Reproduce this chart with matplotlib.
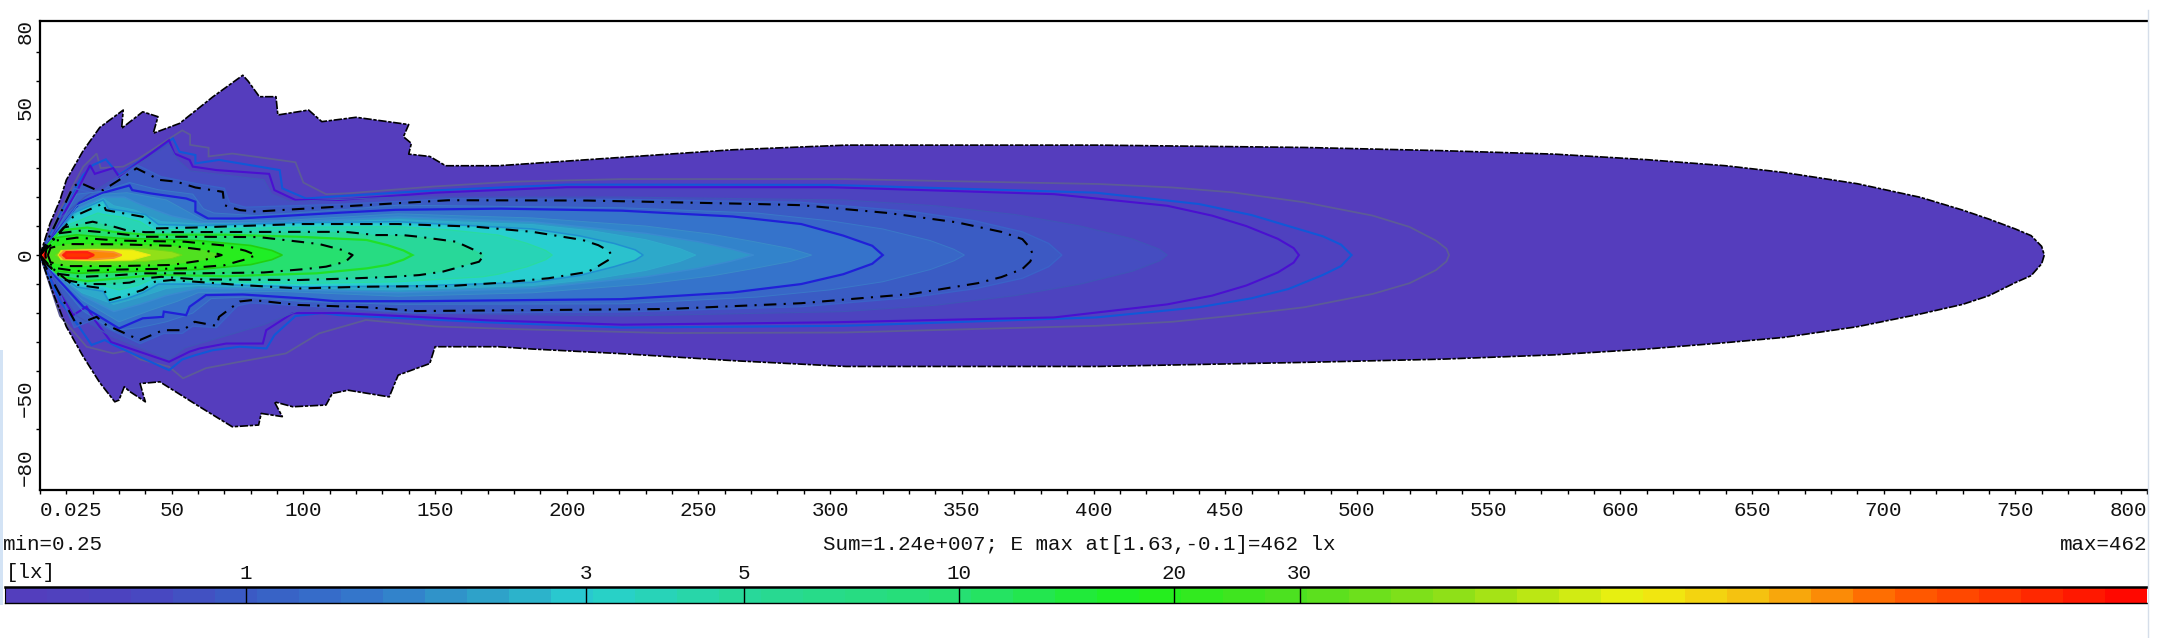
import numpy as np
import matplotlib
matplotlib.use("Agg")
import matplotlib.pyplot as plt
from matplotlib.colors import LinearSegmentedColormap, LogNorm
from matplotlib.patches import Rectangle
from matplotlib.lines import Line2D
from matplotlib.ticker import NullLocator

W, H = 2163, 638

# Isolux outlines in metres: (distance, lateral offset), upper edge then lower edge.
e0_25 = [(0,0),(3.8,10.9),(7.6,19),(10,25.9),(16.4,36),(22.7,44),(31.6,50),(31,43.7),(39,49.4),(44.8,47.7),(43,42),(53,45.4),(65.7,54.6),(77,62),(79,60),(83.3,54.6),(89.6,54.6),(90.3,48.3),(102,50),(107,46),(120,47.5),(140,45),(138,40.8),(141,38.5),(140,34.8),(148,34),(154,30.8),(174,30.8),(221,33.7),(263,36.3),(306,37.9),(402,37.9),(480,37.1),(532,36),(575,34.8),(610,32.9),(640,30.8),(662,28.5),(690,24.6),(714,19.9),(730,15.5),(740,12.4),(750,9),(756,6.7),(760,3),(761,0),
         (760,-3),(756,-7.1),(750,-9.5),(740,-14),(730,-17),(714,-20.3),(690,-24.7),(662,-28.4),(640,-30.2),(610,-32.4),(575,-34.4),(532,-35.9),(480,-37),(402,-38.4),(306,-38.4),(263,-36.4),(221,-34),(187,-32.4),(174,-31.6),(150,-31.6),(148,-37.4),(136,-41.4),(132.6,-48.9),(117,-46.6),(111,-47.7),(108.6,-51.7),(96,-52.3),(89,-50.6),(92,-55.7),(84,-54.6),(83,-58.6),(73,-59.2),(60.6,-52.3),(45.5,-43.7),(38,-44.3),(40,-50.6),(34,-47),(32,-45.4),(30,-50),(28.4,-50.6),(22.7,-44),(16.4,-35),(10,-24.7),(5,-13.2),(0,0)]
e0_50 = [(0,0),(7.6,15.5),(16.4,30.5),(21.5,35),(23,30),(31.6,30.5),(37,33),(54,43),(57,41.5),(57,38),(64,37),(64,34),(73,35),(97,32),(100,25),(108.6,21),(117,21.3),(149,23.6),(179,25.3),(221,26.2),(305,26.2),(402,24.5),(430,23.3),(453,21.6),(480,18.2),(506,13.6),(520,9.7),(530,5),(534,2.2),(535,0),
         (534,-2.2),(530,-5.2),(520,-9.7),(506,-13.4),(480,-18),(453,-20.9),(430,-23),(401,-24.4),(305,-26.7),(238,-26.9),(179,-25.5),(150,-24.6),(123.7,-22.4),(106,-27),(93.4,-33.9),(75.8,-36.8),(63,-39),(54.3,-42.5),(49,-38.5),(38,-36),(33,-33),(27.8,-33.9),(17.7,-31.6),(7.6,-21),(0,0)]
e0_58 = [(0,0),(8.8,16),(16.4,27.6),(20,31),(25,33),(30,27.6),(50.5,40.2),(53,35.6),(59,34.5),(59,31.6),(68,32.8),(91,29.3),(92,23),(101,19.5),(113.6,20.3),(150,22.3),(200,24.3),(300,24.2),(401,21.5),(440,17.6),(460,13.8),(474,10),(487,6.5),(494,3.6),(498,0),
         (494,-3.8),(487,-6.9),(474,-11.7),(460,-14.9),(440,-18),(401,-21.5),(305,-24.4),(221,-25),(170,-23.2),(113.6,-20.7),(107,-20),(97,-21),(89,-27.6),(86,-32.2),(75.8,-31.6),(65.6,-32.8),(59,-34.5),(54,-36),(49,-39.7),(28,-31),(24.6,-29.3),(19.6,-31),(12.6,-21.8),(7.6,-16),(0,0)]
e0_63 = [(0,0),(8.8,14),(14,22),(19,31),(20.8,28),(27.8,30),(30,27),(49,39.6),(51,35),(56.8,32.8),(58,30.5),(67,29.3),(87,28),(89,22.4),(97,19),(113.6,19),(150,21.5),(200,23.4),(300,23.4),(385,21),(428,17),(445,13.6),(458,10),(470,5.6),(476,2.4),(478,0),
         (476,-2.6),(470,-6),(458,-10.5),(445,-14),(428,-17),(385,-21.5),(300,-23.2),(221,-24),(170,-22.5),(113.6,-20),(96,-20),(85.9,-25.9),(84.6,-30.5),(70.7,-30.5),(60.6,-32.2),(56.8,-33.3),(49,-36.8),(27,-30),(20.8,-22.4),(17.7,-17.8),(12.6,-20.7),(7,-12),(0,0)]
e0_79 = [(0,0),(8,13),(17,20),(49,38),(52,33),(57,29),(85,26),(88,21),(95,18.5),(136,20),(221,20),(305,19),(340,17),(370,14),(395,10),(415,5.5),(425,2),(428,0),
         (425,-2),(415,-5.5),(395,-10),(370,-14),(340,-17.3),(305,-19.5),(221,-21),(136,-20),(100,-18.5),(85,-24),(70,-28),(55,-32),(49,-36),(27,-28),(14,-21),(8,-13),(0,0)]
e0_96 = [(0,0),(7,12),(13,23),(22,21),(37,31),(46,27),(60,24.5),(70,23),(72,18),(78,16.5),(114,17.5),(155,19.4),(221,19.2),(289,18.2),(331,15),(355,11.8),(373,8),(383,4),(388,0),
         (383,-4),(373,-8),(355,-11.6),(331,-14.6),(289,-17.8),(221,-19.6),(143,-20),(114,-18.2),(80,-16.5),(75,-17.5),(67,-25),(58,-24.5),(54,-27),(47,-27),(38,-30.5),(25,-25),(21,-22),(13,-25),(7,-12),(0,0)]
e1_0 = [(0,0),(5,9),(12.6,23.6),(15,25),(21.5,22.4),(24,22.4),(33,27.6),(36.6,29.9),(45.5,25.9),(51.8,25.3),(59,23.3),(69.4,21.8),(70,17.2),(75.8,15.5),(82,15),(113.6,16.7),(155,18.9),(208,18.8),(272,17.6),(289,17.2),(322,14.5),(348,11.3),(365,8),(373,5.5),(376,2.4),(377,0),
        (376,-2.2),(373,-4.8),(365,-7.6),(356,-9.7),(331,-13.4),(289,-16.6),(238,-18.6),(143,-19.3),(124,-18),(98,-17.2),(80.8,-15.5),(75.8,-16),(68,-21.3),(67,-24.4),(58.7,-23),(54.3,-25.9),(46.7,-25.9),(37.9,-29.3),(25,-24),(21.5,-21.3),(13.9,-24),(6,-11),(0,0)]
e1_17 = [(0,0),(6,8),(14,21),(24,22),(34,25),(45,22.5),(58,21),(62,16),(66,14.5),(82,13.6),(114,15.6),(136,17.2),(221,16.3),(272,14.5),(300,11.8),(320,9),(338,5),(347,2),(351,0),
         (347,-2),(338,-5),(320,-9.2),(300,-12),(272,-14.5),(221,-16.8),(136,-17),(100,-16),(78,-14.5),(65,-15),(58,-20),(48,-23),(38,-25),(28,-26),(16,-19),(6,-8),(0,0)]
e1_41 = [(0,0),(6,7.5),(15,18),(24,21.5),(34,24),(35,22.4),(41.7,21.3),(55.5,19.5),(59,18.4),(59,15),(63.8,12.6),(75.8,12.6),(113.6,14.6),(135,15.6),(175,16),(221,15.3),(263,13.3),(289,10.7),(305,6.7),(316,3.2),(320,0),
         (316,-3),(305,-6.6),(289,-10),(263,-12.9),(221,-15.2),(143,-15.9),(112,-15.9),(101,-15),(77,-13.6),(63,-13.8),(56.8,-17.8),(55.5,-20.7),(47,-19.5),(46.7,-21.3),(39,-21.8),(30,-25.3),(16.4,-17.8),(6,-7.5),(0,0)]
e1_68 = [(0,0),(5,6),(14,17),(24,21),(33,21.5),(48,19),(56,15),(62,12),(90,11.8),(136,14.2),(187,12.8),(230,10),(255,7.2),(270,4.8),(285,2.2),(293,0),
         (285,-2.2),(270,-4.8),(255,-7.2),(230,-10),(187,-13),(136,-14.2),(90,-12.5),(60,-13),(52,-16),(42,-19),(30,-23),(16,-15.5),(5,-6),(0,0)]
e2_0 = [(0,0),(5,5.5),(14,16),(24,20),(32,20),(38,17.5),(50,13.5),(62,11.2),(90,11.2),(136,13.2),(187,11.5),(230,7.5),(250,4.6),(263,2),(271,0),
        (263,-2),(250,-4.6),(230,-7.5),(187,-11.5),(136,-13),(90,-11.8),(60,-11.5),(48,-14),(38,-17),(28,-19.5),(16,-14),(5,-5.5),(0,0)]
e2_3 = [(0,0),(4,5),(14,15),(24,19.5),(28,17),(36,15.5),(46,11.5),(60,10.7),(90,10.8),(136,12.2),(187,10.5),(210,8.3),(230,5.3),(243,2.2),(249,0),
        (243,-2.2),(230,-5.3),(210,-8.3),(187,-10.5),(136,-12),(90,-11.2),(60,-10.5),(48,-11.5),(38,-14.5),(28,-17),(16,-13),(4,-5),(0,0)]
e2_76 = [(0,0),(4,4.5),(12.6,14.5),(24,19),(26,16),(32,15.2),(40,14),(45,10.5),(60,10.2),(98,11.2),(136,11.5),(187,9),(205,6.6),(218,4),(226,1.8),(229,0),
         (226,-1.8),(218,-4),(205,-7),(187,-9.4),(143,-10.6),(100,-11),(60,-10),(45,-10),(39,-13),(33,-15),(26.5,-16.5),(24,-12.5),(14,-11),(4,-4.5),(0,0)]
e3_0 = [(0,0),(4,4),(12.6,13.2),(24,17.8),(25,15.5),(31.6,14.4),(39,13.2),(44,9.2),(59,9.5),(98.5,10.7),(136,10.7),(165,9.8),(187,8),(206,5.2),(212,3.4),(216,1.4),(217,0),
        (216,-1.6),(212,-3.8),(208,-5.8),(193,-8),(174,-9.6),(155,-10.7),(124,-10.9),(98.5,-11.5),(75.8,-10.3),(50,-8.6),(43.6,-9.2),(39,-12),(33,-13.8),(26.5,-15.5),(24,-11.5),(12,-10),(4,-4),(0,0)]
e3_8 = [(0,0),(3.5,3.5),(11,10.5),(22,14.5),(24,14),(32,13),(38,11.5),(43,8.6),(60,8.9),(98.5,9.6),(136,9.8),(155,8.7),(174,6.9),(185,4),(192,1.6),(194.5,0),
        (192,-1.6),(185,-4),(174,-6.6),(168,-7.5),(136,-9.2),(98.5,-9.8),(60,-9),(48,-8.2),(42,-8.5),(37,-10.5),(30,-12),(24,-10.5),(11,-9),(3.5,-3.5),(0,0)]
e5_0 = [(0,0),(3,3.5),(9,9.5),(20,11.5),(28,9.8),(33,8.5),(40,7.9),(98.5,8),(116,8),(127.5,6.9),(137.6,6.9),(144,6.3),(158,4.6),(165,1.7),(168.6,0),
        (166.7,-2.3),(153,-5.7),(144,-6.9),(134,-7.5),(120,-8),(98.5,-8.6),(60,-8.4),(46,-7.5),(40,-8),(34,-9.5),(26,-10),(18,-10),(9,-8.5),(3,-3.5),(0,0)]
e7_3 = [(0,0),(2.5,3),(8,8.5),(18,9.5),(28,8),(40,7),(70,7),(98.5,6.3),(124,5.2),(132,3.4),(138,1.6),(141.4,0),
        (138,-1.6),(132,-3.4),(124,-4.6),(105,-6.3),(70,-7.3),(45,-6.8),(30,-8),(18,-9),(8,-7.5),(2.5,-3),(0,0)]
e10 = [(0,0),(2,2.5),(7,7.5),(16,8.5),(28.4,7.5),(40,6.3),(59,6.3),(83,6.2),(98.5,4.6),(106,3.8),(115,1.7),(118.7,0),
       (116,-2.3),(108.6,-4),(101,-4.8),(85,-6),(60,-6.3),(40,-6.3),(28,-7),(16,-7.5),(7,-6.5),(2,-2.5),(0,0)]
e17 = [(0,0),(2,2.5),(6,6),(14,7),(30,5.8),(60,5),(80,3.3),(88,1.6),(92,0),
       (88,-1.6),(80,-3.3),(60,-5),(30,-5.8),(14,-6.3),(6,-5.5),(2,-2.5),(0,0)]
e20 = [(2,0),(2.5,2.2),(6,5),(14,6),(30,5),(55,4.6),(70,3.3),(78,1.5),(82,0),
       (78,-1.5),(70,-3.5),(55,-4.6),(30,-5),(14,-5.5),(6,-4.5),(2.5,-2.2),(2,0)]
e30 = [(3,0),(4,2.5),(10,3.8),(30,3.7),(50,3.2),(62,1.8),(69,0),
       (62,-1.8),(50,-3.4),(30,-3.8),(10,-3.8),(4,-2.5),(3,0)]
e50 = [(6,0),(8,1.7),(20,2.4),(40,2.2),(50,1.2),(54,0),
       (50,-1.2),(40,-2.2),(20,-2.4),(8,-1.7),(6,0)]
e90 = [(7,0),(8,1.6),(20,1.9),(35,1.7),(42,0),
       (35,-1.7),(20,-1.9),(8,-1.6),(7,0)]
e170 = [(7.6,0),(9,1.3),(20,1.5),(28,1),(31,0),
        (28,-1),(20,-1.5),(9,-1.3),(7.6,0)]
e300 = [(9,0),(10,1),(18,1),(20.5,0),
        (18,-1),(10,-1),(9,0)]
e462 = [(1,0),(1.3,1.3),(2.2,1.3),(2.4,0),(2.2,-1.3),(1.3,-1.3),(1,0)]

levels = [0.25, 0.50, 0.58, 0.63, 0.79, 0.96, 1.0, 1.17, 1.41, 1.68, 2.0, 2.3, 2.76, 3.0,
          3.8, 5.0, 7.3, 10, 17, 20, 30, 50, 90, 170, 300, 462]
outlines = [e0_25, e0_50, e0_58, e0_63, e0_79, e0_96, e1_0, e1_17, e1_41, e1_68, e2_0, e2_3, e2_76, e3_0,
            e3_8, e5_0, e7_3, e10, e17, e20, e30, e50, e90, e170, e300, e462]

# Colour ramp stops: illuminance in lux and the colour shown at it
ramp_lux = [0.46, 0.7, 1, 1.5, 2, 2.6, 3, 5, 10, 18, 30, 50, 90, 130, 205, 462]
ramp_col = ["#553DBD", "#4A45C0", "#3A5CC4", "#3478CC", "#2F98C8", "#2CB8CC", "#28D0D0", "#28D898",
            "#26E070", "#1EF01E", "#50E020", "#90E018", "#F0F010", "#F5C010", "#FF6000", "#FF0000"]

x_labels = [50, 100, 150, 200, 250, 300, 350, 400, 450, 500, 550, 600, 650, 700, 750]
y_labels = ["80", "50", "0", "\u221250", "\u221280"]
y_label_at = [77, 51, 0, -49.5, -73]
y_ticks = [70, 60, 40, 30, 20, 10, 0, -10, -20, -30, -40, -60]
bar_ticks = [1, 3, 5, 10, 20, 30]

min_text = "min=0.25"
max_text = "max=462"
sum_text = "Sum=1.24e+007; E max at[1.63,-0.1]=462 lx"

plt.rcParams["font.family"] = ["Liberation Mono", "DejaVu Sans"]
FS = 15
INNER_DASH = (0, (6, 3.5, 1, 3.5))
OUTER_DASH = (0, (5, 1, 2, 1))

log_lo, log_hi = np.log10(ramp_lux[0]), np.log10(ramp_lux[-1])
stops = [(np.log10(v) - log_lo) / (log_hi - log_lo) for v in ramp_lux]
cmap = LinearSegmentedColormap.from_list("lux", list(zip(stops, ramp_col)), N=512)
norm = LogNorm(ramp_lux[0], ramp_lux[-1], clip=True)

fig = plt.figure(figsize=(W / 100, H / 100), dpi=100, facecolor="white")


def box(left, top, right, bottom):
    return [left / W, 1 - bottom / H, (right - left) / W, (bottom - top) / H]


ax = fig.add_axes(box(40, 21, 2147, 490))
ax.set_xlim(0, 800)
ax.set_ylim(-81, 80.7)
for side in ("top", "left", "bottom"):
    ax.spines[side].set_linewidth(1.6)
ax.spines["right"].set_visible(False)
ax.set_xticks(np.arange(0, 801, 10))
ax.set_yticks(y_ticks)
ax.tick_params(length=3.2, width=1.0, labelbottom=False, labelleft=False)

for lux, outline in zip(levels, outlines):
    px, py = np.array(outline).T
    ax.fill(px, py, color=cmap(norm(lux)), lw=0, zorder=2)

# Contour strokes: coloured lines at minor levels, dashed black at the round lux values
line_styles = {
    0.50: ("#5C5C96", 1.3), 0.58: ("#1058D8", 1.5), 0.63: ("#4A10D0", 1.5), 0.79: ("#3F55B8", 0.8),
    0.96: ("#3A62C8", 1.0), 1.17: ("#3A78C8", 0.7), 1.41: ("#2020D8", 1.6), 1.68: ("#3A8CC8", 0.7),
    2.0: ("#3A8AD0", 1.0), 2.3: ("#30ACCC", 0.7), 2.76: ("#2090D0", 1.1), 3.8: ("#28DCA0", 0.9),
    7.3: ("#20E028", 1.6), 17: ("#22D010", 1.2), 50: ("#70D818", 0.7), 90: ("#E8E818", 0.7),
    170: ("#F89030", 1.3), 300: ("#FF2010", 1.6), 462: ("#FF3010", 1.0),
}
dashed_levels = [1.0, 3.0, 5.0, 10, 20, 30]
for lux, outline in zip(levels, outlines):
    px, py = np.array(outline).T
    if lux in line_styles:
        colour, width = line_styles[lux]
        ax.plot(px, py, color=colour, lw=width, solid_joinstyle="miter", zorder=3)
    elif lux in dashed_levels:
        ax.plot(px, py, color="black", lw=1.5, ls=INNER_DASH, zorder=4)
    elif lux == levels[0]:
        ax.plot(px, py, color="black", lw=1.2, ls=OUTER_DASH, zorder=4)

# Axis text
label_kw = dict(xycoords=("data", "axes fraction"), textcoords="offset points",
                ha="center", va="center", fontsize=FS, color="#111111")
for v in x_labels:
    ax.annotate(str(v), xy=(v, 0), xytext=(0, -15.1), **label_kw)
ax.annotate("0.025", xy=(0, 0), xytext=(0, -15.1), **{**label_kw, "ha": "left"})
ax.annotate("800", xy=(800, 0), xytext=(0, -15.1), **{**label_kw, "ha": "right"})
for text, y in zip(y_labels, y_label_at):
    ax.annotate(text, xy=(0, y), xycoords=("axes fraction", "data"), xytext=(-10.8, 0),
                textcoords="offset points", rotation=90, ha="center", va="center",
                fontsize=FS, color="#111111")

fig.text(3 / W, 1 - 544 / H, min_text, fontsize=FS, va="center", color="#111111")
fig.text(2147 / W, 1 - 544 / H, max_text, fontsize=FS, va="center", ha="right", color="#111111")
fig.text(1079 / W, 1 - 544 / H, sum_text, fontsize=FS, va="center", ha="center", color="#111111")
fig.text(6 / W, 1 - 573 / H, "[lx]", fontsize=FS, va="center", color="#111111")

# Stepped colour bar on a logarithmic scale
cax = fig.add_axes(box(5, 587, 2147, 603))
edges = np.geomspace(ramp_lux[0], ramp_lux[-1], 52)
centres = np.sqrt(edges[:-1] * edges[1:])
cax.pcolormesh(edges, [0, 1], centres[None, :], cmap=cmap, norm=norm, shading="flat")
cax.set_xscale("log")
cax.set_xlim(ramp_lux[0], ramp_lux[-1])
cax.set_ylim(0, 1)
cax.xaxis.set_major_locator(NullLocator())
cax.xaxis.set_minor_locator(NullLocator())
cax.set_yticks([])
cax.spines["top"].set_linewidth(1.8)
cax.spines["bottom"].set_linewidth(1.0)
cax.spines["left"].set_linewidth(0.8)
cax.spines["right"].set_visible(False)
cax.vlines(bar_ticks, 0, 1, color="black", lw=1.0)
for v in bar_ticks:
    cax.annotate(str(v), xy=(v, 1), xycoords=("data", "axes fraction"), xytext=(0, 10),
                 textcoords="offset points", ha="center", va="center", fontsize=FS, color="#111111")

# Pale window edges along the left and right of the canvas
fig.add_artist(Rectangle((0, 1 - 605 / H), 3 / W, 255 / H, transform=fig.transFigure,
                         facecolor="#D3E3F5", edgecolor="none"))
fig.add_artist(Line2D([2147.5 / W, 2147.5 / W], [1 - 10 / H, 0], transform=fig.transFigure,
                      color="#D5DEEA", lw=1.0))

fig.savefig("out.png", dpi=100, facecolor="white")
